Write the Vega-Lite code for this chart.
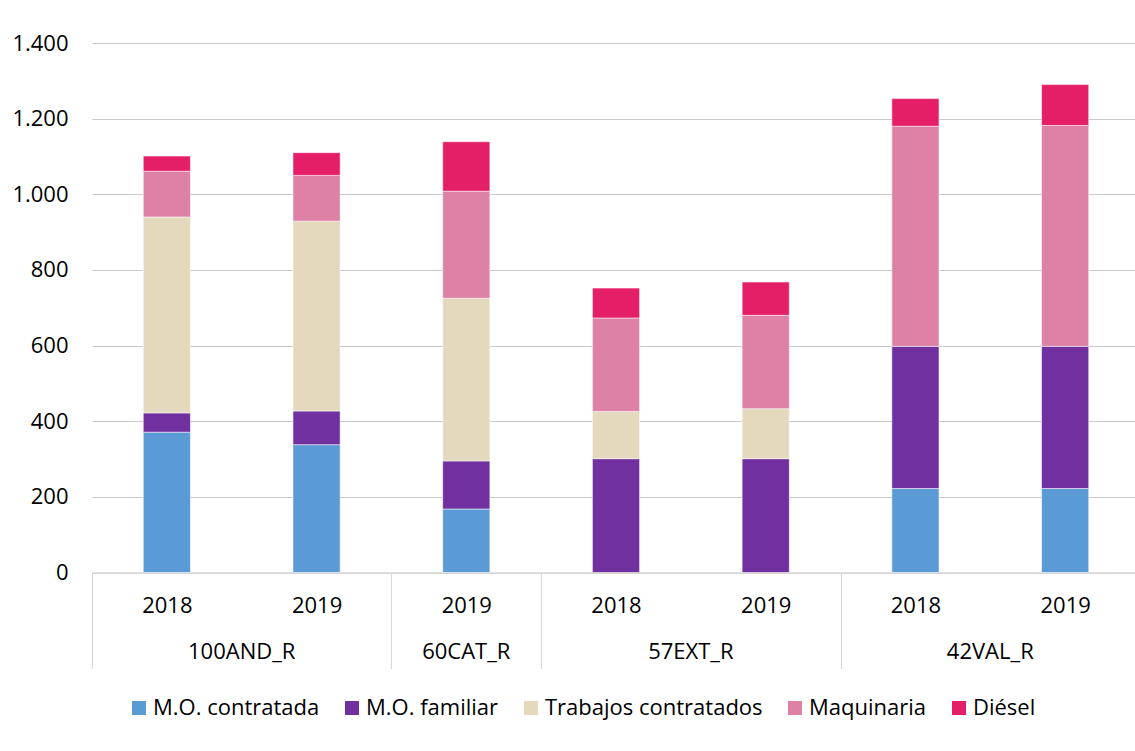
{
  "$schema": "https://vega.github.io/schema/vega-lite/v6.json",
  "width": 1048,
  "height": 529.5,
  "autosize": "none",
  "padding": {"left": 92, "top": 43, "right": 0, "bottom": 178.5},
  "background": "white",
  "config": {
    "font": "Open Sans",
    "view": {"stroke": null},
    "axis": {"labelFont": "Open Sans", "labelFontSize": 22, "labelColor": "#000000"},
    "legend": {"labelFont": "Open Sans", "labelFontSize": 22, "labelColor": "#000000"}
  },
  "datasets": {
    "costs": [
      {"cost": "M.O. contratada", "rank": 1},
      {"cost": "M.O. familiar", "rank": 2},
      {"cost": "Trabajos contratados", "rank": 3},
      {"cost": "Maquinaria", "rank": 4},
      {"cost": "Diésel", "rank": 5}
    ],
    "bars": [
      {"region": "100AND_R", "year": "2018", "key": "100AND_R 2018", "cost": "M.O. contratada", "value": 371},
      {"region": "100AND_R", "year": "2018", "key": "100AND_R 2018", "cost": "M.O. familiar", "value": 51},
      {"region": "100AND_R", "year": "2018", "key": "100AND_R 2018", "cost": "Trabajos contratados", "value": 518},
      {"region": "100AND_R", "year": "2018", "key": "100AND_R 2018", "cost": "Maquinaria", "value": 121},
      {"region": "100AND_R", "year": "2018", "key": "100AND_R 2018", "cost": "Diésel", "value": 40},
      {"region": "100AND_R", "year": "2019", "key": "100AND_R 2019", "cost": "M.O. contratada", "value": 338},
      {"region": "100AND_R", "year": "2019", "key": "100AND_R 2019", "cost": "M.O. familiar", "value": 89},
      {"region": "100AND_R", "year": "2019", "key": "100AND_R 2019", "cost": "Trabajos contratados", "value": 502},
      {"region": "100AND_R", "year": "2019", "key": "100AND_R 2019", "cost": "Maquinaria", "value": 121},
      {"region": "100AND_R", "year": "2019", "key": "100AND_R 2019", "cost": "Diésel", "value": 60},
      {"region": "60CAT_R", "year": "2019", "key": "60CAT_R 2019", "cost": "M.O. contratada", "value": 168},
      {"region": "60CAT_R", "year": "2019", "key": "60CAT_R 2019", "cost": "M.O. familiar", "value": 127},
      {"region": "60CAT_R", "year": "2019", "key": "60CAT_R 2019", "cost": "Trabajos contratados", "value": 430},
      {"region": "60CAT_R", "year": "2019", "key": "60CAT_R 2019", "cost": "Maquinaria", "value": 283},
      {"region": "60CAT_R", "year": "2019", "key": "60CAT_R 2019", "cost": "Diésel", "value": 131},
      {"region": "57EXT_R", "year": "2018", "key": "57EXT_R 2018", "cost": "M.O. familiar", "value": 301},
      {"region": "57EXT_R", "year": "2018", "key": "57EXT_R 2018", "cost": "Trabajos contratados", "value": 125},
      {"region": "57EXT_R", "year": "2018", "key": "57EXT_R 2018", "cost": "Maquinaria", "value": 247},
      {"region": "57EXT_R", "year": "2018", "key": "57EXT_R 2018", "cost": "Diésel", "value": 79},
      {"region": "57EXT_R", "year": "2019", "key": "57EXT_R 2019", "cost": "M.O. familiar", "value": 301},
      {"region": "57EXT_R", "year": "2019", "key": "57EXT_R 2019", "cost": "Trabajos contratados", "value": 132},
      {"region": "57EXT_R", "year": "2019", "key": "57EXT_R 2019", "cost": "Maquinaria", "value": 247},
      {"region": "57EXT_R", "year": "2019", "key": "57EXT_R 2019", "cost": "Diésel", "value": 88},
      {"region": "42VAL_R", "year": "2018", "key": "42VAL_R 2018", "cost": "M.O. contratada", "value": 222},
      {"region": "42VAL_R", "year": "2018", "key": "42VAL_R 2018", "cost": "M.O. familiar", "value": 376},
      {"region": "42VAL_R", "year": "2018", "key": "42VAL_R 2018", "cost": "Maquinaria", "value": 582},
      {"region": "42VAL_R", "year": "2018", "key": "42VAL_R 2018", "cost": "Diésel", "value": 73},
      {"region": "42VAL_R", "year": "2019", "key": "42VAL_R 2019", "cost": "M.O. contratada", "value": 222},
      {"region": "42VAL_R", "year": "2019", "key": "42VAL_R 2019", "cost": "M.O. familiar", "value": 376},
      {"region": "42VAL_R", "year": "2019", "key": "42VAL_R 2019", "cost": "Maquinaria", "value": 584},
      {"region": "42VAL_R", "year": "2019", "key": "42VAL_R 2019", "cost": "Diésel", "value": 108}
    ]
  },
  "data": {"name": "bars"},
  "transform": [
    {"lookup": "cost", "from": {"data": {"name": "costs"}, "key": "cost", "fields": ["rank"]}}
  ],
  "encoding": {
    "y": {
      "field": "value",
      "type": "quantitative",
      "stack": "zero",
      "scale": {"domain": [0, 1400], "nice": false},
      "axis": {
        "title": null,
        "values": [0, 200, 400, 600, 800, 1000, 1200, 1400],
        "domain": false,
        "ticks": false,
        "grid": true,
        "gridColor": "#c9c9c9",
        "gridWidth": 1,
        "labelPadding": 24,
        "labelExpr": "replace(format(datum.value, ','), ',', '.')"
      }
    },
    "order": {"field": "rank", "type": "quantitative", "sort": "ascending"},
    "color": {
      "field": "cost",
      "type": "nominal",
      "sort": ["M.O. contratada", "M.O. familiar", "Trabajos contratados", "Maquinaria", "Diésel"],
      "scale": {
        "domain": ["M.O. contratada", "M.O. familiar", "Trabajos contratados", "Maquinaria", "Diésel"],
        "range": ["#5B9BD5", "#7030A0", "#E4D9BD", "#DD82A5", "#E41F67"]
      },
      "legend": {
        "title": null,
        "orient": "none",
        "direction": "horizontal",
        "legendX": 36,
        "legendY": 654,
        "padding": 0,
        "symbolType": "square",
        "symbolSize": 196,
        "symbolStrokeWidth": 0,
        "labelOffset": 3,
        "labelLimit": 400,
        "columnPadding": 21
      }
    }
  },
  "layer": [
    {
      "transform": [{"filter": "datum.year == '2018'"}],
      "mark": {"type": "bar", "width": {"band": 0.315}, "stroke": "white", "strokeWidth": 0.75, "strokeOpacity": 0.7},
      "encoding": {
        "x": {
          "field": "key",
          "type": "nominal",
          "scale": {
            "domain": ["100AND_R 2018", "100AND_R 2019", "60CAT_R 2019", "57EXT_R 2018", "57EXT_R 2019", "42VAL_R 2018", "42VAL_R 2019"],
            "paddingInner": 0,
            "paddingOuter": 0
          },
          "axis": {
            "title": null,
            "orient": "bottom",
            "grid": false,
            "labelAngle": 0,
            "labelExpr": "datum.value ? split(datum.value, ' ')[1] : ''",
            "domain": true,
            "domainColor": "#d9d9d9",
            "domainWidth": 1.5,
            "ticks": true,
            "tickBand": "extent",
            "tickSize": 96,
            "tickColor": "#d9d9d9",
            "tickWidth": 1,
            "tickOpacity": {"condition": {"test": "datum.extra || indexof(datum.value + '', '2019') >= 0", "value": 1}, "value": 0},
            "labelPadding": -73
          }
        }
      }
    },
    {
      "transform": [{"filter": "datum.year == '2019'"}],
      "mark": {"type": "bar", "width": {"band": 0.315}, "stroke": "white", "strokeWidth": 0.75, "strokeOpacity": 0.7},
      "encoding": {
        "x": {
          "field": "key",
          "type": "nominal",
          "scale": {
            "domain": ["100AND_R 2018", "100AND_R 2019", "60CAT_R 2019", "57EXT_R 2018", "57EXT_R 2019", "42VAL_R 2018", "42VAL_R 2019"],
            "paddingInner": 0,
            "paddingOuter": 0
          },
          "axis": {
            "title": null,
            "orient": "bottom",
            "grid": false,
            "labelAngle": 0,
            "domain": false,
            "ticks": false,
            "labelPadding": 69,
            "labelExpr": "(indexof(datum.value + '', '2018') >= 0 || indexof(datum.value + '', '60CAT') >= 0) ? split(datum.value, ' ')[0] : ''",
            "labelOffset": {"condition": {"test": "indexof(datum.value + '', '2018') >= 0", "value": 74.85}, "value": 0}
          }
        }
      }
    }
  ],
  "resolve": {"axis": {"x": "independent"}}
}
